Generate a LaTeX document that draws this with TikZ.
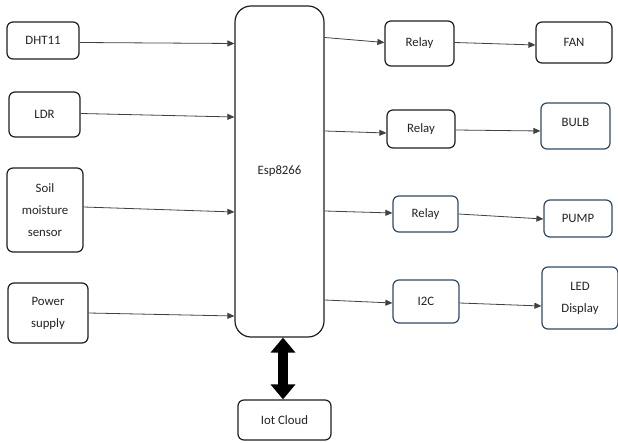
\documentclass[tikz,border=0pt]{standalone}
\usepackage{fontspec}
\setmainfont{Carlito}
\usepackage{xcolor}
\usetikzlibrary{arrows.meta,positioning,calc}
\definecolor{edge}{RGB}{30,30,30}
\definecolor{edgeblue}{RGB}{47,72,105}
\definecolor{txt}{RGB}{35,35,35}

\begin{document}
\begin{tikzpicture}[x=1pt,y=-1pt,font=\fontsize{12.8}{22}\selectfont,text=txt]
\useasboundingbox (0,0) rectangle (618,443);
\tikzset{blk/.style={draw=edge,line width=1.2pt,rounded corners=6pt,align=center,inner sep=0pt}}
\tikzset{blkb/.style={blk,draw=edgeblue}}
\tikzset{conn/.style={-{Triangle[length=7pt,width=6pt]},line width=0.8pt,edge!85}}
\tikzset{link/.style={{Triangle[length=15pt,width=24pt]}-{Triangle[length=15pt,width=24pt]},line width=10pt,black}}
% inputs
\node[blk,minimum width=72pt,minimum height=37pt] (dht) at (43,40.5) {DHT11};
\node[blk,minimum width=71pt,minimum height=45pt] (ldr) at (44.5,114.5) {LDR};
\node[blk,minimum width=76pt,minimum height=84pt] (soil) at (45,210) {Soil\\moisture\\sensor};
\node[blk,minimum width=80pt,minimum height=60pt] (power) at (48,313) {Power\\supply};
% controller
\node[blk,rounded corners=16pt,minimum width=89pt,minimum height=331pt] (esp) at (279.5,171.5) {Esp8266};
\node[blk,minimum width=93pt,minimum height=40pt] (iot) at (284.5,420) {Iot Cloud};
% outputs
\node[blk,minimum width=69pt,minimum height=45pt] (relayA) at (419.5,43.5) {Relay};
\node[blk,minimum width=76pt,minimum height=41pt] (fan) at (574,42.5) {FAN};
\node[blk,minimum width=68pt,minimum height=38pt] (relayB) at (421,129) {Relay};
\node[blkb,minimum width=69pt,minimum height=46pt] (bulb) at (575.5,126) {\raisebox{8pt}{BULB}};
\node[blkb,minimum width=65pt,minimum height=36pt] (relayC) at (425.5,214) {Relay};
\node[blkb,minimum width=68pt,minimum height=37pt] (pump) at (578,218.5) {PUMP};
\node[blkb,minimum width=66pt,minimum height=43pt] (ic) at (426,301.5) {I2C};
\node[blkb,minimum width=76pt,minimum height=62pt] (led) at (580,298) {LED\\Display};
% sensor lines
\draw[conn] ([yshift=-2pt]dht.east) -- ([yshift=-3pt]dht.east -| esp.west);
\draw[conn] ([yshift=1pt]ldr.east) -- ([yshift=-2.5pt]ldr.east -| esp.west);
\draw[conn] ([yshift=3pt]soil.east) -- ([yshift=-2pt]soil.east -| esp.west);
\draw[conn] (power.east) -- ([yshift=-3pt]power.east -| esp.west);
% driver lines
\draw[conn] ([yshift=6pt]esp.east |- relayA.west) -- ([yshift=1pt]relayA.west);
\draw[conn] ([yshift=1pt]relayA.east) -- ([yshift=-2.5pt]fan.west);
\draw[conn] ([yshift=-2pt]esp.east |- relayB.west) -- ([yshift=-4pt]relayB.west);
\draw[conn] ([yshift=-1pt]relayB.east) -- ([yshift=-5pt]bulb.west);
\draw[conn] ([yshift=3pt]esp.east |- relayC.west) -- ([yshift=1pt]relayC.west);
\draw[conn] (relayC.east) -- ([yshift=-0.5pt]pump.west);
\draw[conn] ([yshift=1.5pt]esp.east |- ic.west) -- ([yshift=-1.5pt]ic.west);
\draw[conn] ([yshift=-1.5pt]ic.east) -- ([yshift=-8pt]led.west);
% cloud link
\draw[link] ([xshift=-1.5pt]iot.north |- esp.south) -- ([xshift=-1.5pt]iot.north);
\end{tikzpicture}
\end{document}
